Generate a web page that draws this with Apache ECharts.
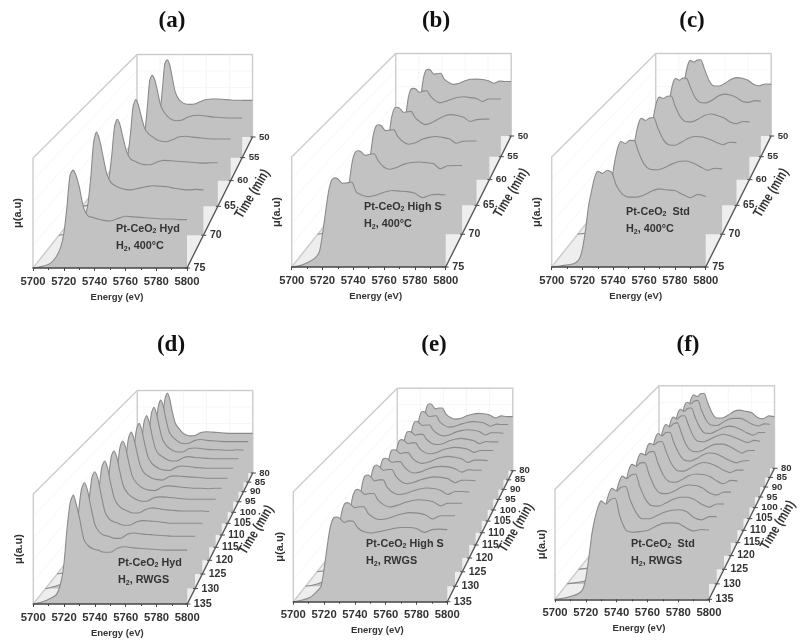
<!DOCTYPE html>
<html><head><meta charset="utf-8">
<style>html,body{margin:0;padding:0;background:#fff}#chart{width:800px;height:644px;filter:blur(0.5px)}</style>
<script src="https://cdn.jsdelivr.net/npm/echarts@6/dist/echarts.min.js"></script>
</head><body><div id="chart"></div>
<script>
const energy=[5700,5706,5711,5715,5718,5720,5722,5724,5726,5728,5730,5733,5736,5739,5742,5746,5750,5755,5760,5765,5770,5775,5780,5785,5790,5795,5800];
const energyTicks=[5700,5720,5740,5760,5780,5800];
const timesTop=[50,55,60,65,70,75];
const timesBottom=[80,85,90,95,100,105,110,115,120,125,130,135];

// mu(a.u) of each trace, rear-most time first
const muA=[
[0,.012,.03,.09,.18,.30,.58,.88,.937,.89,.76,.55,.46,.42,.40,.396,.40,.43,.455,.46,.46,.455,.45,.445,.445,.444,.444],
[0,.012,.03,.09,.18,.30,.58,.89,.948,.90,.79,.60,.52,.47,.44,.426,.43,.465,.485,.488,.48,.47,.465,.46,.457,.457,.457],
[0,.01,.03,.09,.17,.29,.52,.81,.884,.83,.72,.57,.51,.48,.45,.43,.425,.45,.48,.485,.475,.47,.46,.455,.455,.455,.455],
[0,.015,.035,.09,.18,.30,.53,.82,.897,.84,.72,.56,.485,.465,.445,.43,.428,.455,.474,.47,.465,.46,.455,.45,.445,.45,.45],
[0,.015,.035,.09,.18,.30,.56,.90,1.0,.93,.80,.60,.51,.48,.46,.445,.44,.455,.47,.48,.475,.47,.455,.445,.44,.445,.44],
[0,.015,.04,.10,.19,.31,.55,.84,.89,.84,.74,.54,.47,.46,.445,.433,.427,.45,.47,.465,.46,.455,.45,.445,.445,.44,.44]];
const muB=[
[0,.015,.04,.08,.14,.29,.50,.70,.79,.808,.80,.75,.755,.76,.69,.65,.626,.64,.67,.688,.69,.685,.67,.64,.665,.66,.66],
[0,.015,.04,.07,.13,.28,.49,.69,.775,.787,.78,.74,.755,.76,.70,.645,.62,.64,.665,.685,.69,.68,.67,.635,.665,.664,.664],
[0,.015,.04,.07,.13,.28,.50,.69,.78,.79,.78,.735,.74,.745,.68,.63,.60,.62,.66,.695,.71,.70,.68,.635,.655,.66,.66],
[0,.015,.04,.07,.13,.29,.52,.72,.815,.83,.82,.77,.775,.78,.71,.655,.63,.645,.68,.70,.71,.70,.685,.64,.66,.663,.663],
[0,.015,.04,.07,.14,.29,.51,.71,.795,.81,.80,.765,.775,.78,.71,.65,.63,.65,.68,.695,.70,.695,.685,.635,.665,.667,.667],
[0,.015,.045,.08,.14,.30,.50,.69,.79,.81,.80,.76,.765,.77,.68,.65,.64,.655,.68,.695,.69,.685,.67,.63,.655,.66,.655]];
const muC=[
[0,.012,.02,.035,.075,.17,.34,.57,.75,.87,.917,.895,.92,.925,.82,.68,.61,.606,.64,.685,.707,.70,.675,.625,.61,.63,.626],
[0,.012,.02,.035,.075,.17,.34,.57,.74,.86,.90,.88,.905,.90,.80,.68,.625,.62,.65,.70,.72,.71,.68,.635,.625,.645,.64],
[0,.012,.02,.035,.07,.16,.34,.57,.74,.86,.90,.885,.91,.912,.81,.69,.635,.63,.66,.70,.716,.70,.675,.63,.61,.635,.63],
[0,.012,.02,.035,.07,.16,.34,.56,.73,.85,.897,.875,.90,.905,.80,.68,.625,.62,.655,.695,.71,.705,.68,.65,.625,.65,.646],
[0,.012,.02,.035,.07,.16,.33,.56,.73,.85,.90,.88,.91,.91,.80,.68,.63,.625,.645,.68,.705,.71,.69,.655,.62,.64,.634],
[0,.012,.02,.035,.075,.17,.34,.56,.70,.82,.87,.85,.88,.86,.74,.66,.635,.635,.655,.69,.71,.70,.695,.66,.63,.66,.64]];
const muD=[
[0,.02,.04,.08,.19,.37,.68,.90,.97,.90,.76,.60,.54,.49,.465,.45,.455,.49,.50,.495,.49,.485,.48,.48,.48,.48,.48],
[0,.02,.04,.08,.19,.37,.68,.90,.972,.905,.77,.60,.535,.50,.47,.455,.46,.495,.505,.495,.49,.485,.48,.48,.48,.48,.48],
[0,.02,.04,.08,.19,.37,.69,.91,.976,.91,.78,.61,.54,.50,.475,.46,.46,.50,.505,.50,.49,.485,.485,.48,.48,.485,.48],
[0,.02,.04,.08,.19,.37,.69,.91,.973,.90,.77,.60,.535,.505,.48,.46,.46,.495,.51,.50,.495,.49,.485,.485,.485,.485,.485],
[0,.02,.04,.08,.19,.38,.70,.92,.98,.91,.78,.61,.54,.505,.48,.465,.46,.495,.51,.505,.495,.49,.485,.485,.485,.485,.485],
[0,.02,.04,.085,.19,.38,.70,.92,.98,.915,.79,.62,.54,.51,.485,.47,.465,.50,.51,.505,.50,.495,.49,.485,.485,.485,.485],
[0,.02,.04,.085,.20,.38,.70,.925,.984,.92,.79,.62,.55,.51,.485,.47,.465,.50,.515,.51,.50,.495,.49,.49,.485,.49,.49],
[0,.02,.04,.085,.20,.38,.70,.925,.983,.92,.79,.62,.55,.515,.49,.47,.47,.505,.515,.51,.505,.495,.49,.49,.49,.49,.49],
[0,.02,.04,.085,.20,.38,.70,.925,.985,.92,.78,.61,.54,.51,.49,.47,.47,.505,.52,.51,.50,.495,.49,.49,.49,.49,.485],
[0,.02,.045,.085,.20,.38,.70,.93,.986,.925,.79,.60,.53,.505,.49,.47,.47,.505,.515,.51,.505,.495,.49,.49,.49,.49,.49],
[0,.02,.045,.085,.20,.38,.70,.93,.991,.925,.79,.60,.53,.50,.49,.47,.47,.51,.52,.51,.505,.50,.495,.49,.49,.49,.49],
[0,.02,.05,.085,.20,.38,.70,.925,.99,.90,.78,.58,.525,.50,.49,.47,.47,.51,.52,.51,.505,.50,.495,.49,.49,.49,.49]];
const muE=[
[0,.015,.04,.08,.13,.27,.49,.68,.79,.812,.80,.75,.76,.76,.69,.645,.625,.635,.665,.685,.695,.69,.675,.64,.665,.655,.655],
[0,.015,.04,.08,.13,.27,.49,.68,.79,.81,.795,.75,.755,.76,.69,.645,.625,.635,.66,.68,.69,.685,.67,.635,.66,.655,.655],
[0,.015,.04,.08,.13,.26,.48,.67,.77,.788,.775,.74,.745,.745,.685,.64,.62,.63,.66,.68,.69,.685,.67,.63,.655,.655,.65],
[0,.015,.04,.08,.13,.26,.47,.66,.755,.768,.76,.725,.735,.735,.68,.635,.62,.63,.66,.68,.69,.68,.665,.63,.655,.65,.65],
[0,.015,.04,.08,.13,.26,.47,.66,.76,.776,.765,.73,.74,.74,.68,.635,.62,.63,.66,.68,.69,.685,.67,.635,.655,.655,.655],
[0,.015,.04,.08,.13,.26,.47,.65,.755,.767,.76,.725,.735,.735,.68,.635,.62,.635,.665,.685,.695,.685,.67,.63,.655,.655,.65],
[0,.015,.04,.08,.13,.27,.48,.67,.77,.78,.77,.735,.745,.745,.69,.64,.625,.64,.67,.69,.695,.69,.67,.635,.66,.655,.655],
[0,.015,.04,.08,.13,.27,.50,.70,.80,.816,.80,.76,.77,.77,.70,.645,.625,.64,.665,.685,.695,.69,.675,.635,.66,.66,.655],
[0,.015,.04,.08,.14,.27,.50,.71,.81,.823,.81,.765,.775,.775,.70,.65,.63,.64,.665,.685,.695,.69,.67,.63,.66,.66,.655],
[0,.015,.04,.08,.13,.27,.49,.69,.78,.794,.78,.745,.755,.755,.69,.645,.625,.64,.665,.685,.695,.69,.675,.635,.66,.66,.66],
[0,.015,.04,.08,.13,.27,.48,.68,.77,.784,.77,.735,.745,.745,.68,.64,.625,.635,.66,.68,.69,.685,.67,.63,.66,.66,.66],
[0,.015,.04,.09,.14,.30,.50,.68,.76,.77,.76,.72,.735,.73,.67,.635,.625,.635,.65,.665,.675,.675,.665,.63,.655,.66,.655]];
const muF=[
[0,.012,.025,.04,.08,.17,.36,.58,.75,.85,.89,.87,.905,.909,.80,.67,.61,.61,.645,.69,.705,.69,.675,.62,.60,.635,.626],
[0,.012,.025,.04,.08,.17,.36,.58,.75,.86,.89,.87,.905,.913,.80,.68,.62,.615,.65,.69,.70,.70,.67,.63,.61,.635,.63],
[0,.012,.025,.04,.08,.17,.36,.58,.75,.86,.90,.875,.91,.915,.81,.69,.625,.62,.65,.685,.705,.695,.665,.625,.60,.63,.63],
[0,.012,.025,.04,.08,.17,.36,.58,.75,.86,.905,.88,.915,.919,.82,.69,.63,.625,.655,.69,.71,.695,.67,.64,.615,.64,.63],
[0,.012,.025,.04,.08,.17,.36,.59,.76,.87,.915,.89,.925,.934,.83,.69,.625,.615,.64,.68,.70,.70,.675,.635,.60,.63,.63],
[0,.012,.025,.04,.08,.17,.36,.59,.76,.87,.915,.89,.925,.928,.82,.70,.63,.62,.65,.69,.705,.695,.66,.625,.60,.62,.625],
[0,.012,.025,.04,.08,.17,.36,.59,.76,.87,.91,.895,.925,.93,.83,.70,.63,.62,.65,.69,.71,.70,.67,.63,.605,.63,.63],
[0,.012,.025,.04,.08,.17,.36,.59,.76,.87,.91,.89,.925,.93,.82,.69,.625,.615,.645,.685,.70,.695,.675,.63,.60,.635,.63],
[0,.012,.025,.04,.08,.17,.36,.58,.75,.86,.905,.885,.92,.922,.81,.68,.62,.615,.64,.68,.70,.695,.67,.62,.60,.63,.63],
[0,.012,.025,.04,.08,.17,.36,.58,.75,.85,.90,.875,.91,.92,.80,.675,.615,.61,.64,.675,.695,.695,.67,.625,.60,.63,.63],
[0,.012,.025,.04,.08,.17,.36,.58,.75,.85,.895,.87,.905,.912,.79,.67,.61,.61,.64,.67,.69,.695,.675,.62,.60,.63,.63],
[0,.012,.03,.05,.09,.19,.38,.60,.74,.84,.895,.865,.905,.918,.76,.63,.61,.615,.625,.66,.69,.695,.69,.65,.62,.635,.63]];

const labelFont='"Liberation Sans",Arial,sans-serif';
const ink='#333';
const panels=[
 {tag:'(a)',tagX:172,tagY:10, left:33,  bottom:268,  times:timesTop,   mu:muA,note:['Pt-CeO{s|2} Hyd','H{s|2}, 400°C'],noteX:116,noteY:223,muGap:10},
 {tag:'(b)',tagX:436,tagY:10, left:291.7,bottom:267, times:timesTop,   mu:muB,note:['Pt-CeO{s|2} High S','H{s|2}, 400°C'],noteX:364,noteY:201,muGap:9},
 {tag:'(c)',tagX:692,tagY:10, left:551.7,bottom:267, times:timesTop,   mu:muC,note:['Pt-CeO{s|2}  Std','H{s|2}, 400°C'],noteX:626,noteY:206,muGap:9},
 {tag:'(d)',tagX:171,tagY:334,left:33.3,bottom:604, times:timesBottom,mu:muD,note:['Pt-CeO{s|2} Hyd','H{s|2}, RWGS'],noteX:118,noteY:557,muGap:9},
 {tag:'(e)',tagX:434,tagY:334,left:293.3,bottom:601.7,times:timesBottom,mu:muE,note:['Pt-CeO{s|2} High S','H{s|2}, RWGS'],noteX:366,noteY:538,muGap:8},
 {tag:'(f)',tagX:688,tagY:334,left:555, bottom:599.3,times:timesBottom,mu:muF,note:['Pt-CeO{s|2}  Std','H{s|2}, RWGS'],noteX:631,noteY:538,muGap:8}
];
const W=154,H=110,DX=104,DY=-131,BACK=0.25;
const depth=(i,n)=>1-1/(1+(i/n)/3);      // perspective fraction towards the vanishing point
const vanish=p=>[DX*4,DY*4];

const grid=[],xAxis=[],yAxis=[],series=[],title=[];
panels.forEach((p,pi)=>{
  const main=grid.length;
  const [vx,vy]=vanish(p);
  const warp=(pt,s)=>[pt[0]+s*(p.left+vx-pt[0]),pt[1]+s*(p.bottom+vy-pt[1])];
  grid.push({left:p.left,top:p.bottom-H,width:W,height:H});
  xAxis.push({gridIndex:main,type:'value',min:5700,max:5800,interval:20,z:60,
    name:'Energy (eV)',nameLocation:'middle',nameGap:24,
    nameTextStyle:{fontFamily:labelFont,fontWeight:'bold',fontSize:9.5,color:ink,padding:[0,0,0,14]},
    axisLine:{onZero:false,lineStyle:{color:'#444',width:1.5}},
    axisTick:{length:3,lineStyle:{color:'#444'}},
    minorTick:{show:true,splitNumber:2,length:2,lineStyle:{color:'#444'}},
    splitLine:{show:false},
    axisLabel:{margin:8,fontFamily:labelFont,fontWeight:'bold',fontSize:11.3,color:ink,showMinLabel:true,showMaxLabel:true,hideOverlap:false,formatter:v=>energyTicks.includes(v)?String(v):''}});
  yAxis.push({gridIndex:main,type:'value',min:0,max:1,
    name:'μ(a.u)',nameLocation:'middle',nameGap:p.muGap,nameRotate:90,
    nameTextStyle:{fontFamily:labelFont,fontWeight:'bold',fontSize:11,color:ink,padding:[0,0,0,0]},
    axisLine:{show:false},axisTick:{show:false},axisLabel:{show:false},splitLine:{show:false}});
  // box walls and floor
  series.push({type:'custom',xAxisIndex:main,yAxisIndex:main,z:1,silent:true,clip:false,data:[[5700,0]],
    renderItem:(params,api)=>{
      const fl=api.coord([5700,0]),fr=api.coord([5800,0]),tl=api.coord([5700,1]),tr=api.coord([5800,1]);
      const bl=warp(fl,BACK),br=warp(fr,BACK),btl=warp(tl,BACK),btr=warp(tr,BACK);
      const wall={stroke:'#cdcdcd',lineWidth:1.4,fill:null};
      const kids=[{type:'polygon',shape:{points:[fl,fr,br,bl]},style:{fill:'#eeeeee'}}];
      energyTicks.forEach(e=>{
        const a=warp(api.coord([e,0]),BACK),b=warp(api.coord([e,1]),BACK);
        kids.push({type:'line',shape:{x1:a[0],y1:a[1],x2:b[0],y2:b[1]},style:{stroke:'#f6f6f6',lineWidth:1}});
      });
      [.2,.4,.6,.8].forEach(m=>{
        const a=warp(api.coord([5700,m]),BACK),b=warp(api.coord([5800,m]),BACK),c=api.coord([5700,m]);
        kids.push({type:'line',shape:{x1:a[0],y1:a[1],x2:b[0],y2:b[1]},style:{stroke:'#f7f7f7',lineWidth:1}});
        kids.push({type:'line',shape:{x1:a[0],y1:a[1],x2:c[0],y2:c[1]},style:{stroke:'#f7f7f7',lineWidth:1}});
      });
      kids.push({type:'polyline',shape:{points:[fl,tl,btl,btr,br]},style:wall});
      kids.push({type:'polyline',shape:{points:[fl,bl,btl]},style:wall});
      return {type:'group',children:kids};
    }});
  // one grid per time trace, scaled by its perspective depth
  const n=p.times.length-1;
  p.mu.forEach((vals,k)=>{
    const i=n-k,s=depth(i,n),g=grid.length;
    const left=p.left+s*vx,bottom=p.bottom+s*vy,scale=1-s;
    grid.push({left:left,top:bottom-H*scale,width:W*scale,height:H*scale});
    xAxis.push({gridIndex:g,type:'value',min:5700,max:5800,show:false});
    yAxis.push({gridIndex:g,type:'value',min:0,max:1,show:false});
    series.push({type:'line',name:String(p.times[k]),xAxisIndex:g,yAxisIndex:g,z:2+k,clip:false,silent:true,
      showSymbol:false,smooth:0.25,
      lineStyle:{color:'#8a8a8a',width:1.1},
      areaStyle:{color:'#c2c2c2',opacity:1},
      data:energy.map((e,j)=>[e,vals[j]])});
  });
  // time axis
  const timeNameDx=n>5?69:65.5;
  series.push({type:'custom',xAxisIndex:main,yAxisIndex:main,z:40,silent:true,clip:false,
    data:p.times.map((t,i)=>[5800,0,t,n-i]),
    renderItem:(params,api)=>{
      const fr=api.coord([5800,0]),t=api.value(2),i=api.value(3),s=depth(i,n),pt=warp(fr,s);
      const size=(10.8*(1-0.5*s)).toFixed(1);
      const kids=[{type:'line',shape:{x1:pt[0]-2,y1:pt[1],x2:pt[0]+3,y2:pt[1]},style:{stroke:'#444',lineWidth:1}},
        {type:'text',x:pt[0]+6.5,y:pt[1],style:{text:String(t),font:'bold '+size+'px '+labelFont,fill:ink,textAlign:'left',textVerticalAlign:'middle'}}];
      if(i===0){const b=warp(fr,BACK);
        kids.push({type:'line',shape:{x1:fr[0],y1:fr[1],x2:b[0],y2:b[1]},style:{stroke:'#555',lineWidth:1.4}});
        kids.push({type:'text',x:fr[0]+timeNameDx,y:fr[1]-74,rotation:59*Math.PI/180,scaleY:1.3,style:{text:'Time (min)',font:'bold 10.8px '+labelFont,fill:ink,textAlign:'center',textVerticalAlign:'middle'}});
      }
      return {type:'group',children:kids};
    }});
  title.push({text:p.tag,left:p.tagX,top:p.tagY,padding:0,textAlign:'center',z:70,
    textStyle:{fontFamily:'"Liberation Serif","Times New Roman",serif',fontWeight:'bold',fontSize:23,color:'#111'}});
  p.note.forEach((line,li)=>{
    title.push({text:line,left:p.noteX,top:p.noteY+li*17.5,padding:0,z:70,
      textStyle:{fontFamily:labelFont,fontWeight:'bold',fontSize:10.8,color:ink,lineHeight:12,
        rich:{s:{fontFamily:labelFont,fontWeight:'bold',fontSize:7,color:ink,verticalAlign:'bottom',lineHeight:9,padding:[5,0,0,0]}}}});
  });
});
const chart=echarts.init(document.getElementById('chart'),null,{renderer:'canvas'});
chart.setOption({animation:false,backgroundColor:'#fff',title,grid,xAxis,yAxis,series});
</script></body></html>
